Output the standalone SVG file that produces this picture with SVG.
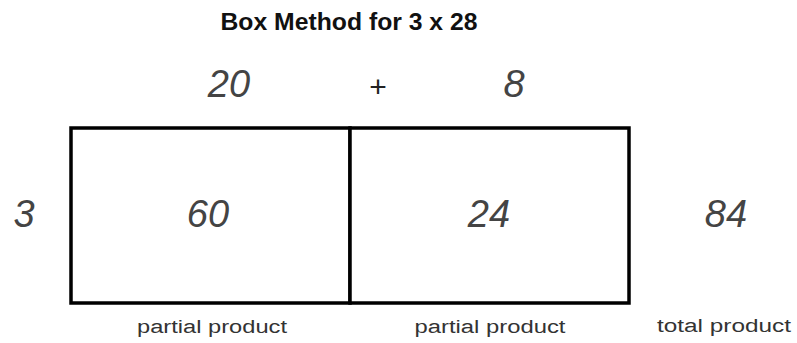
<svg xmlns="http://www.w3.org/2000/svg" width="797" height="343" viewBox="0 0 797 343">
<style>
.title{font-family:"Liberation Sans",Arial,sans-serif;font-weight:bold;font-size:23px;fill:#111;text-anchor:middle}
.hand{font-family:"Liberation Sans",Arial,sans-serif;font-style:italic;font-size:38px;fill:#444;text-anchor:middle}
.lbl{font-family:"Liberation Sans",Arial,sans-serif;font-size:18px;fill:#333;text-anchor:middle}
.cell{fill:#fff;stroke:#000;stroke-width:3.5}
</style>
<rect width="797" height="343" fill="#fff"/>
<text class="title" x="349" y="30" textLength="257" lengthAdjust="spacingAndGlyphs">Box Method for 3 x 28</text>
<g id="top-factors">
<text class="hand" x="229" y="97">20</text>
<text x="378" y="97" font-family="Liberation Sans, Arial, sans-serif" font-size="30" fill="#222" text-anchor="middle">+</text>
<text class="hand" x="514" y="97">8</text>
</g>
<g id="side-factor">
<text class="hand" x="24" y="227">3</text>
</g>
<g id="box-left">
<rect class="cell" x="71" y="128" width="279" height="175"/>
<text class="hand" x="208" y="227">60</text>
</g>
<g id="box-right">
<rect class="cell" x="350" y="128" width="279" height="175"/>
<text class="hand" x="489" y="227">24</text>
</g>
<g id="total">
<text class="hand" x="726" y="227">84</text>
</g>
<g id="labels">
<text class="lbl" x="212" y="333" textLength="150" lengthAdjust="spacingAndGlyphs">partial product</text>
<text class="lbl" x="490" y="333" textLength="151" lengthAdjust="spacingAndGlyphs">partial product</text>
<text class="lbl" x="724" y="332" textLength="134" lengthAdjust="spacingAndGlyphs">total product</text>
</g>
</svg>
